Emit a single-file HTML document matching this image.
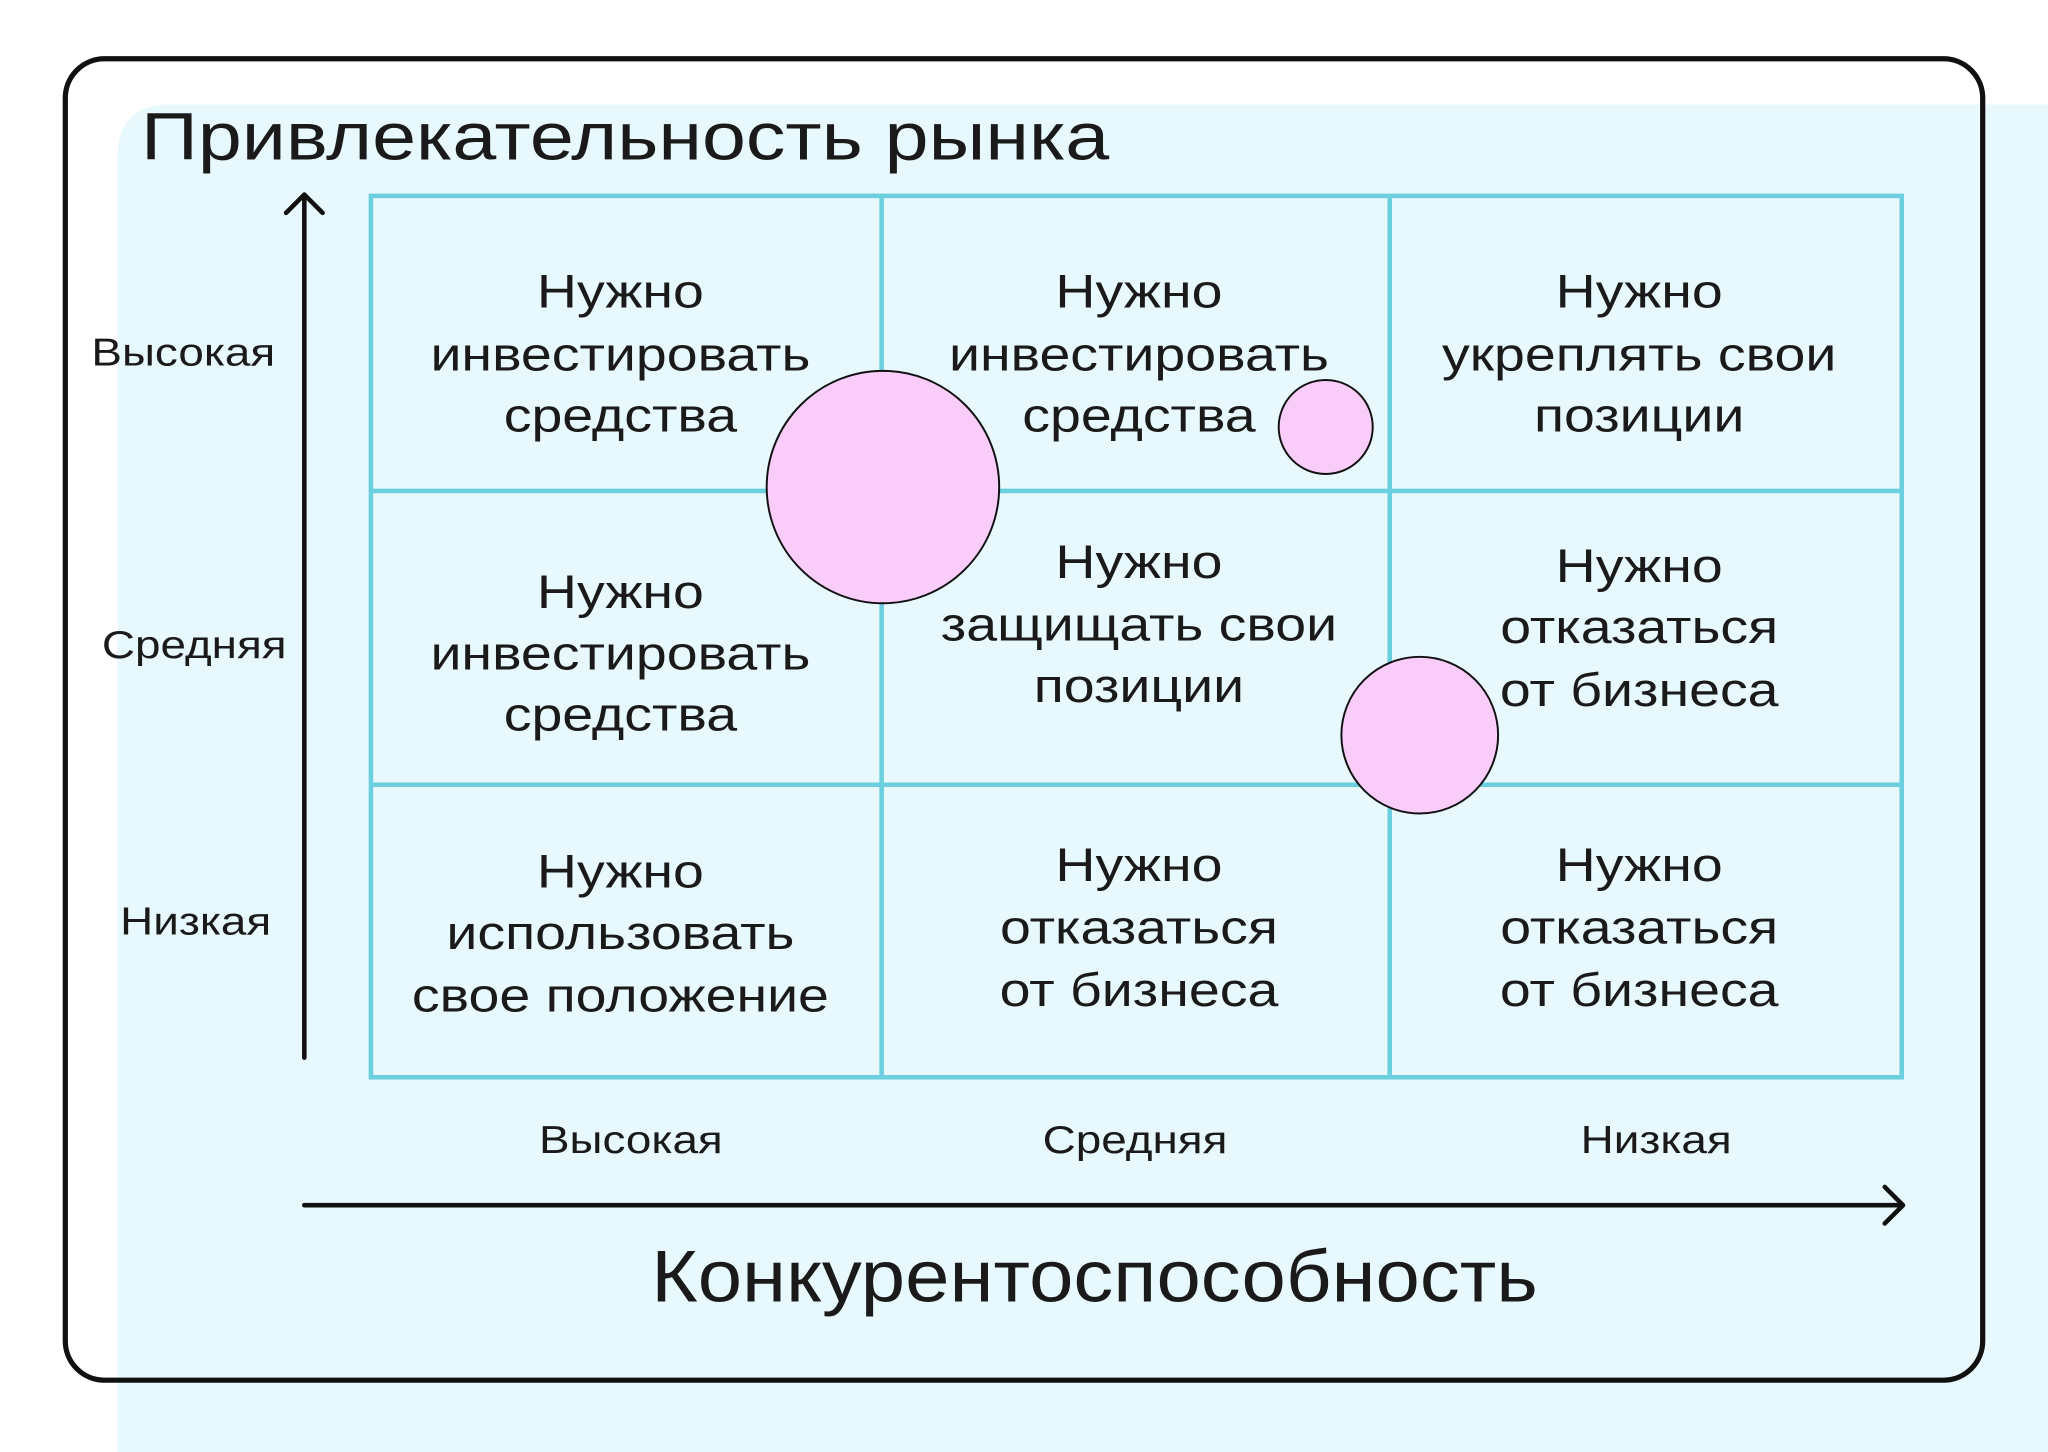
<!DOCTYPE html>
<html><head><meta charset="utf-8"><style>
html,body{margin:0;padding:0;background:#fff;width:2048px;height:1452px;overflow:hidden}
svg{display:block}
text{font-family:"Liberation Sans","DejaVu Sans",sans-serif;fill:#1a1a1a}
</style></head><body>
<svg width="2048" height="1452" viewBox="0 0 1568 1112" preserveAspectRatio="none" xmlns="http://www.w3.org/2000/svg">
<path d="M90 120 Q90 80 130 80 L1568 80 L1568 1112 L90 1112 Z" fill="#e8f9fd"/>
<rect x="50" y="45" width="1468" height="1012" rx="30" fill="none" stroke="#111" stroke-width="4"/>
<g transform="translate(108,0) scale(1.186,1)"><text x="0" y="122" font-size="51">Привлекательность рынка</text></g>
<g stroke="#6ccfe0" stroke-width="3.5" fill="none">
<rect x="284" y="150" width="1172" height="675"/>
<line x1="675" y1="150" x2="675" y2="825"/>
<line x1="1064" y1="150" x2="1064" y2="825"/>
<line x1="284" y1="376" x2="1456" y2="376"/>
<line x1="284" y1="601" x2="1456" y2="601"/>
</g>
<g font-size="36" text-anchor="middle" dominant-baseline="central">
<g transform="translate(475,0) scale(1.18,1)"><text x="0" y="223">Нужно</text><text x="0" y="271">инвестировать</text><text x="0" y="318">средства</text>
<text x="0" y="453">Нужно</text><text x="0" y="500">инвестировать</text><text x="0" y="547">средства</text>
<text x="0" y="667">Нужно</text><text x="0" y="714">использовать</text><text x="0" y="762">свое положение</text></g>
<g transform="translate(872,0) scale(1.18,1)"><text x="0" y="223">Нужно</text><text x="0" y="271">инвестировать</text><text x="0" y="318">средства</text>
<text x="0" y="430">Нужно</text><text x="0" y="478">защищать свои</text><text x="0" y="525">позиции</text>
<text x="0" y="662">Нужно</text><text x="0" y="710">отказаться</text><text x="0" y="758">от бизнеса</text></g>
<g transform="translate(1255,0) scale(1.18,1)"><text x="0" y="223">Нужно</text><text x="0" y="271">укреплять свои</text><text x="0" y="318">позиции</text>
<text x="0" y="433">Нужно</text><text x="0" y="480">отказаться</text><text x="0" y="528">от бизнеса</text>
<text x="0" y="662">Нужно</text><text x="0" y="710">отказаться</text><text x="0" y="758">от бизнеса</text></g>
</g>
<g fill="#f9ccf9" stroke="#111" stroke-width="1.5">
<circle cx="676" cy="373" r="89"/>
<circle cx="1015" cy="327" r="36"/>
<circle cx="1087" cy="563" r="60"/>
</g>
<g stroke="#111" stroke-width="3.5" fill="none" stroke-linecap="round" stroke-linejoin="round">
<line x1="233" y1="810" x2="233" y2="150"/>
<polyline points="219,163 233,149 247,163"/>
<line x1="233" y1="923" x2="1456" y2="923"/>
<polyline points="1443,909 1457,923 1443,937"/>
</g>
<g font-size="30" dominant-baseline="central">
<g transform="translate(70,0) scale(1.17,1)"><text x="0" y="270">Высокая</text></g>
<g transform="translate(78,0) scale(1.17,1)"><text x="0" y="494">Средняя</text></g>
<g transform="translate(92,0) scale(1.17,1)"><text x="0" y="706">Низкая</text></g>
</g>
<g font-size="30" text-anchor="middle" dominant-baseline="central">
<g transform="translate(483,0) scale(1.17,1)"><text x="0" y="873">Высокая</text></g>
<g transform="translate(869,0) scale(1.17,1)"><text x="0" y="873">Средняя</text></g>
<g transform="translate(1268,0) scale(1.17,1)"><text x="0" y="873">Низкая</text></g>
</g>
<g transform="translate(838,0) scale(1.09,1)"><text x="0" y="978" font-size="56" text-anchor="middle" dominant-baseline="central">Конкурентоспособность</text></g>
</svg>
</body></html>
